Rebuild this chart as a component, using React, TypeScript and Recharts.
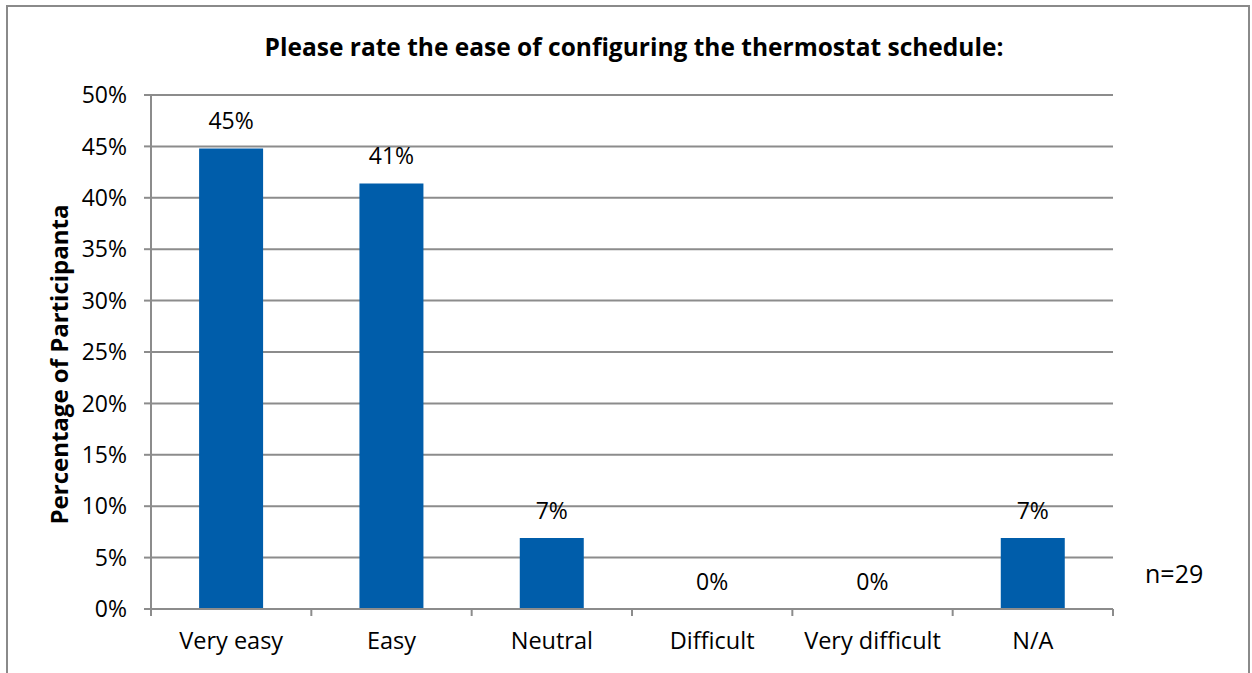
import { BarChart, Bar, XAxis, YAxis, CartesianGrid, LabelList } from "recharts";

const categories = ["Very easy", "Easy", "Neutral", "Difficult", "Very difficult", "N/A"];
const percentages = [44.8, 41.4, 6.9, 0, 0, 6.9];
const yTicks = [0, 5, 10, 15, 20, 25, 30, 35, 40, 45, 50];

const FONT = "'Open Sans', 'Liberation Sans', sans-serif";
const BAR_COLOR = "#005DAA";
const GRID = "#8c8c8c";

const CHART_W = 1240;
const CHART_H = 680;
const MARGIN = { top: 88, right: 135, bottom: 0, left: 0 };
const Y_AXIS_W = 143;
const X_AXIS_H = CHART_H - 602;
const PLOT_W = CHART_W - MARGIN.right - Y_AXIS_W;
const BAND = PLOT_W / categories.length;

const data = categories.map((name, i) => ({ name, value: percentages[i] }));

const XTick = (props: any) => {
  const { x, y, payload, index } = props;
  const cx = payload?.coordinate ?? x;
  return (
    <g>
      <line x1={cx - BAND / 2} y1={y} x2={cx - BAND / 2} y2={y + 7} stroke={GRID} strokeWidth={2} />
      {index === categories.length - 1 && (
        <line x1={cx + BAND / 2} y1={y} x2={cx + BAND / 2} y2={y + 7} stroke={GRID} strokeWidth={2} />
      )}
      <text x={cx} y={y + 40} textAnchor="middle" fill="#000" fontSize={23.5} fontFamily={FONT}>
        {payload.value}
      </text>
    </g>
  );
};

export default function App() {
  return (
    <div
      style={{
        position: "absolute",
        left: 6,
        top: 5,
        width: CHART_W,
        height: CHART_H,
        border: "2px solid #8a8a8a",
        background: "#fff",
        fontFamily: FONT,
      }}
    >
      <div
        style={{
          position: "absolute",
          left: 0,
          width: 1252,
          top: 23,
          textAlign: "center",
          fontWeight: 700,
          fontSize: 24.5,
          color: "#000",
        }}
      >
        Please rate the ease of configuring the thermostat schedule:
      </div>
      <div
        style={{
          position: "absolute",
          left: 50 - 200,
          top: 357 - 16,
          width: 400,
          textAlign: "center",
          transform: "rotate(-90deg)",
          fontWeight: 700,
          fontSize: 24,
          color: "#000",
        }}
      >
        Percentage of Participanta
      </div>
      <div
        style={{
          position: "absolute",
          left: 1137,
          top: 549,
          fontSize: 25,
          color: "#000",
        }}
      >
        n=29
      </div>
      <BarChart width={CHART_W} height={CHART_H} data={data} margin={MARGIN} barCategoryGap="30%">
        <CartesianGrid vertical={false} stroke={GRID} strokeWidth={2} />
        <XAxis
          dataKey="name"
          height={X_AXIS_H}
          tickLine={false}
          tickSize={0}
          tickMargin={0}
          axisLine={{ stroke: GRID, strokeWidth: 2 }}
          tick={<XTick />}
          interval={0}
        />
        <YAxis
          width={Y_AXIS_W}
          domain={[0, 50]}
          ticks={yTicks}
          interval={0}
          tickFormatter={(v: number) => `${v}%`}
          tickSize={7}
          tickMargin={17}
          tickLine={{ stroke: GRID, strokeWidth: 2 }}
          axisLine={{ stroke: GRID, strokeWidth: 2 }}
          tick={{ fill: "#000", fontSize: 23, fontFamily: FONT }}
        />
        <Bar dataKey="value" fill={BAR_COLOR} isAnimationActive={false} minPointSize={0.01}>
          <LabelList
            dataKey="value"
            position="top"
            offset={19}
            formatter={(v: any) => `${Math.round(Number(v))}%`}
            style={{ fill: "#000", fontSize: 23, fontFamily: FONT }}
          />
        </Bar>
      </BarChart>
    </div>
  );
}
